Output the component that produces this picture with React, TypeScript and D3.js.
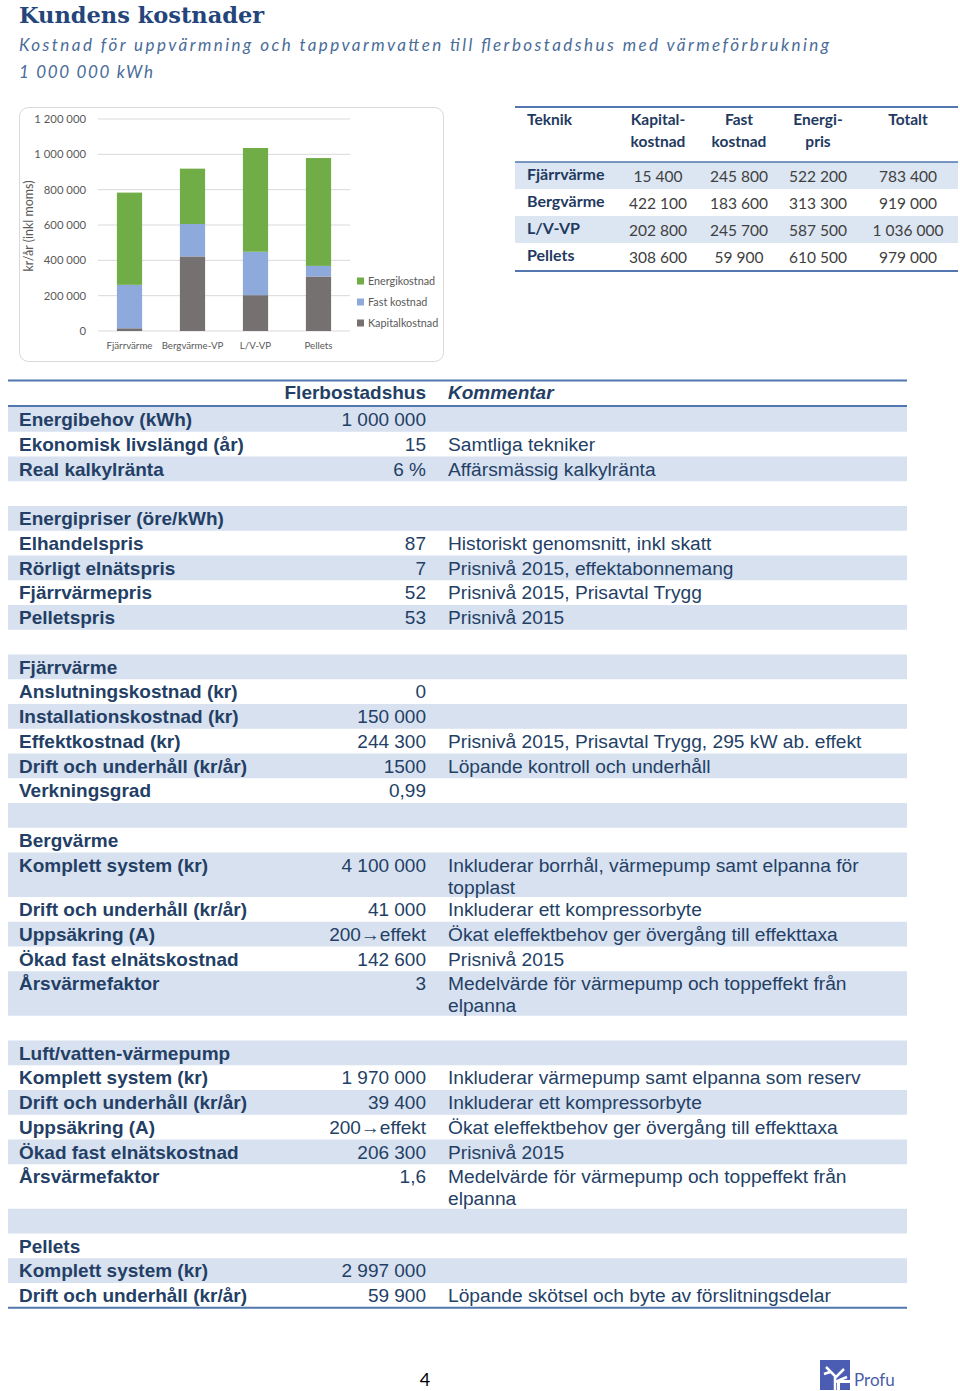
import React from 'react';
import * as d3 from 'd3';

// Chart data (kr/år inkl moms)
const categories = ['Fjärrvärme', 'Bergvärme-VP', 'L/V-VP', 'Pellets'];
const kapitalkostnad = [15400, 422100, 202800, 308600];
const fastKostnad = [245800, 183600, 245700, 59900];
const energikostnad = [522200, 313300, 587500, 610500];
const totalt = [783400, 919000, 1036000, 979000];
const yTicks = [0, 200000, 400000, 600000, 800000, 1000000, 1200000];

// Top right table
const tableTech = ['Fjärrvärme', 'Bergvärme', 'L/V-VP', 'Pellets'];
const tableHeaders = [['Teknik'], ['Kapital-', 'kostnad'], ['Fast', 'kostnad'], ['Energi-', 'pris'], ['Totalt']];

// Bottom table
const rowLabels = ['Energibehov (kWh)', 'Ekonomisk livslängd (år)', 'Real kalkylränta', '', 'Energipriser (öre/kWh)', 'Elhandelspris', 'Rörligt elnätspris', 'Fjärrvärmepris', 'Pelletspris', '', 'Fjärrvärme', 'Anslutningskostnad (kr)', 'Installationskostnad (kr)', 'Effektkostnad (kr)', 'Drift och underhåll (kr/år)', 'Verkningsgrad', '', 'Bergvärme', 'Komplett system (kr)', 'Drift och underhåll (kr/år)', 'Uppsäkring (A)', 'Ökad fast elnätskostnad', 'Årsvärmefaktor', '', 'Luft/vatten-värmepump', 'Komplett system (kr)', 'Drift och underhåll (kr/år)', 'Uppsäkring (A)', 'Ökad fast elnätskostnad', 'Årsvärmefaktor', '', 'Pellets', 'Komplett system (kr)', 'Drift och underhåll (kr/år)'];
const rowValues = ['1 000 000', '15', '6 %', '', '', '87', '7', '52', '53', '', '', '0', '150 000', '244 300', '1500', '0,99', '', '', '4 100 000', '41 000', '200→effekt', '142 600', '3', '', '', '1 970 000', '39 400', '200→effekt', '206 300', '1,6', '', '', '2 997 000', '59 900'];
const rowComments = ['', 'Samtliga tekniker', 'Affärsmässig kalkylränta', '', '', 'Historiskt genomsnitt, inkl skatt', 'Prisnivå 2015, effektabonnemang', 'Prisnivå 2015, Prisavtal Trygg', 'Prisnivå 2015', '', '', '', '', 'Prisnivå 2015, Prisavtal Trygg, 295 kW ab. effekt', 'Löpande kontroll och underhåll', '', '', '', 'Inkluderar borrhål, värmepump samt elpanna för\ntopplast', 'Inkluderar ett kompressorbyte', 'Ökat eleffektbehov ger övergång till effekttaxa', 'Prisnivå 2015', 'Medelvärde för värmepump och toppeffekt från\nelpanna', '', '', 'Inkluderar värmepump samt elpanna som reserv', 'Inkluderar ett kompressorbyte', 'Ökat eleffektbehov ger övergång till effekttaxa', 'Prisnivå 2015', 'Medelvärde för värmepump och toppeffekt från\nelpanna', '', '', '', 'Löpande skötsel och byte av förslitningsdelar'];

const seriesKeys = ['Kapitalkostnad', 'Fast kostnad', 'Energikostnad'];
const colors: Record<string, string> = {
    'Kapitalkostnad': '#767171',
    'Fast kostnad': '#8EA9DB',
    'Energikostnad': '#70AD47'
};

const W = 960;
const H = 1391;
const calibri = 'Lato, "Open Sans", sans-serif';
const arial = '"Liberation Sans", Arial, sans-serif';
const navy = '#243F66';
const lineBlue = '#5177AE';
const shade = '#D7E1EF';

const fmt = (v: number) => d3.format(',')(v).replace(/,/g, ' ');

const App = () => {
    // ---- stacked bar chart
    const rows = categories.map((c, i) => ({
        cat: c,
        'Kapitalkostnad': kapitalkostnad[i],
        'Fast kostnad': fastKostnad[i],
        'Energikostnad': energikostnad[i]
    }));
    const series = d3.stack<any>().keys(seriesKeys)(rows);

    const x = d3.scaleBand().domain(categories).range([98, 350]).paddingInner(0.6).paddingOuter(0.3);
    const y = d3.scaleLinear().domain([0, 1200000]).range([331, 119]);

    // ---- top table columns
    const colX = [527, 658, 739, 818, 908];
    const rowY = d3.scaleBand().domain(tableTech).range([162, 270]);

    // ---- bottom table rows
    const lineCounts = rowComments.map(c => c.split('\n').length);
    const singleH = 24.75;
    const doubleH = 44.5;
    const heights = lineCounts.map(n => (n > 1 ? doubleH : singleH));
    const tops = [0, ...Array.from(d3.cumsum(heights))].map(v => v + 407);
    const tableBottom = tops[tops.length - 1];

    return (
        <div style={{ position: 'absolute', left: 0, top: 0 }}>
            <svg width={W} height={H} style={{ display: 'block', background: '#fff' }}>
                {/* Title */}
                <text x={19} y={23} fontFamily='"DejaVu Serif", serif' fontWeight="bold" fontSize={22.5} fill="#23457A">
                    Kundens kostnader
                </text>
                <text x={19} y={51} fontFamily={calibri} fontStyle="italic" fontSize={17} fill="#4A6C98"
                    textLength={810} lengthAdjust="spacing">
                    Kostnad för uppvärmning och tappvarmvatten till flerbostadshus med värmeförbrukning
                </text>
                <text x={19} y={78} fontFamily={calibri} fontStyle="italic" fontSize={17} fill="#4A6C98"
                    textLength={134} lengthAdjust="spacing">
                    1 000 000 kWh
                </text>

                {/* Chart box */}
                <rect x={19.5} y={107.5} width={424} height={254} rx={9} fill="#fff" stroke="#D9D9D9" />

                {/* gridlines + y ticks */}
                {yTicks.map(t => (
                    <g key={t}>
                        <line x1={98} x2={350} y1={y(t)} y2={y(t)} stroke="#D9D9D9" strokeWidth={1} />
                        <text x={86} y={y(t) + 4} textAnchor="end" fontFamily={calibri} fontSize={11.3} fill="#595959">
                            {fmt(t)}
                        </text>
                    </g>
                ))}
                <text transform={`translate(33,${y(600000) + 1}) rotate(-90)`} textAnchor="middle"
                    fontFamily={calibri} fontSize={12.5} fill="#595959">
                    kr/år (inkl moms)
                </text>

                {/* bars */}
                {series.map(s => (
                    <g key={s.key} fill={colors[s.key]}>
                        {s.map((d: any) => (
                            <rect key={d.data.cat} x={x(d.data.cat)} y={y(d[1])}
                                width={x.bandwidth()} height={y(d[0]) - y(d[1])} />
                        ))}
                    </g>
                ))}

                {/* x labels */}
                {categories.map(c => (
                    <text key={c} x={(x(c) as number) + x.bandwidth() / 2} y={349} textAnchor="middle"
                        fontFamily={calibri} fontSize={9.7} fill="#595959">
                        {c}
                    </text>
                ))}

                {/* legend */}
                {[...seriesKeys].reverse().map((k, i) => (
                    <g key={k} transform={`translate(357,${281 + i * 21})`}>
                        <rect x={0} y={-3.5} width={7} height={7} fill={colors[k]} />
                        <text x={11} y={4} fontFamily={calibri} fontSize={10.8} fill="#595959">{k}</text>
                    </g>
                ))}

                {/* Top right table */}
                {tableTech.map((t, i) => i % 2 === 0 && (
                    <rect key={t} x={515} y={rowY(t)} width={443} height={rowY.bandwidth()} fill="#DCE6F2" />
                ))}
                <line x1={515} x2={958} y1={107} y2={107} stroke={lineBlue} strokeWidth={2} />
                <line x1={515} x2={958} y1={162} y2={162} stroke={lineBlue} strokeWidth={1.5} />
                <line x1={515} x2={958} y1={271} y2={271} stroke={lineBlue} strokeWidth={2} />
                {tableHeaders.map((h, ci) => h.map((ln, li) => (
                    <text key={`${ci}-${li}`} x={colX[ci]} y={125 + li * 22}
                        textAnchor={ci === 0 ? 'start' : 'middle'}
                        fontFamily={calibri} fontWeight="bold" fontSize={15.5} fill="#1F3A60">
                        {ln}
                    </text>
                )))}
                {tableTech.map((t, i) => {
                    const cy = (rowY(t) as number) + rowY.bandwidth() / 2;
                    const vals = [kapitalkostnad[i], fastKostnad[i], energikostnad[i], totalt[i]];
                    return (
                        <g key={t}>
                            <text x={colX[0]} y={cy + 4} fontFamily={calibri} fontWeight="bold" fontSize={16} fill="#1F3A60">{t}</text>
                            {vals.map((v, vi) => (
                                <text key={vi} x={colX[vi + 1]} y={cy + 6} textAnchor="middle"
                                    fontFamily={calibri} fontSize={15.5} fill="#404040">
                                    {fmt(v)}
                                </text>
                            ))}
                        </g>
                    );
                })}

                {/* Bottom table */}
                {rowLabels.map((_, i) => i % 2 === 0 && (
                    <rect key={i} x={8} y={tops[i]} width={899} height={heights[i]} fill={shade} />
                ))}
                <line x1={8} x2={907} y1={380.5} y2={380.5} stroke={lineBlue} strokeWidth={2} />
                <line x1={8} x2={907} y1={406} y2={406} stroke={lineBlue} strokeWidth={2} />
                <line x1={8} x2={907} y1={tableBottom} y2={tableBottom} stroke={lineBlue} strokeWidth={2} />
                <text x={426} y={399} textAnchor="end" fontFamily={arial} fontWeight="bold" fontSize={19} fill={navy}>
                    Flerbostadshus
                </text>
                <text x={448} y={399} fontFamily={arial} fontWeight="bold" fontStyle="italic" fontSize={19} fill={navy}>
                    Kommentar
                </text>
                {rowLabels.map((lab, i) => {
                    const base = tops[i] + 19;
                    return (
                        <g key={i}>
                            {lab && (
                                <text x={19} y={base} fontFamily={arial} fontWeight="bold" fontSize={19} fill={navy}>{lab}</text>
                            )}
                            {rowValues[i] && (
                                <text x={426} y={base} textAnchor="end" fontFamily={arial} fontSize={19} fill={navy}>{rowValues[i]}</text>
                            )}
                            {rowComments[i] && rowComments[i].split('\n').map((ln, li) => (
                                <text key={li} x={448} y={base + li * 22} fontFamily={arial} fontSize={19.2} fill={navy}>{ln}</text>
                            ))}
                        </g>
                    );
                })}

                {/* Footer */}
                <text x={425} y={1386} textAnchor="middle" fontFamily={calibri} fontSize={18} fill="#000">4</text>
                <g transform="translate(820,1360)">
                    <rect x={0} y={0} width={30} height={30} fill="#4A5DB3" />
                    <path d="M15 30 L15 16 L6 7 M15 18 L24 9 M15 22 L27 17 M10 12 L4 14" stroke="#fff" strokeWidth={2.5} fill="none" />
                    <rect x={17} y={20} width={13} height={10} fill="#fff" />
                    <rect x={20} y={23} width={10} height={7} fill="#4A5DB3" />
                </g>
                <text x={854} y={1386} fontFamily={calibri} fontSize={17} fill="#4A5DA8">Profu</text>
            </svg>
        </div>
    );
};

export default App;
